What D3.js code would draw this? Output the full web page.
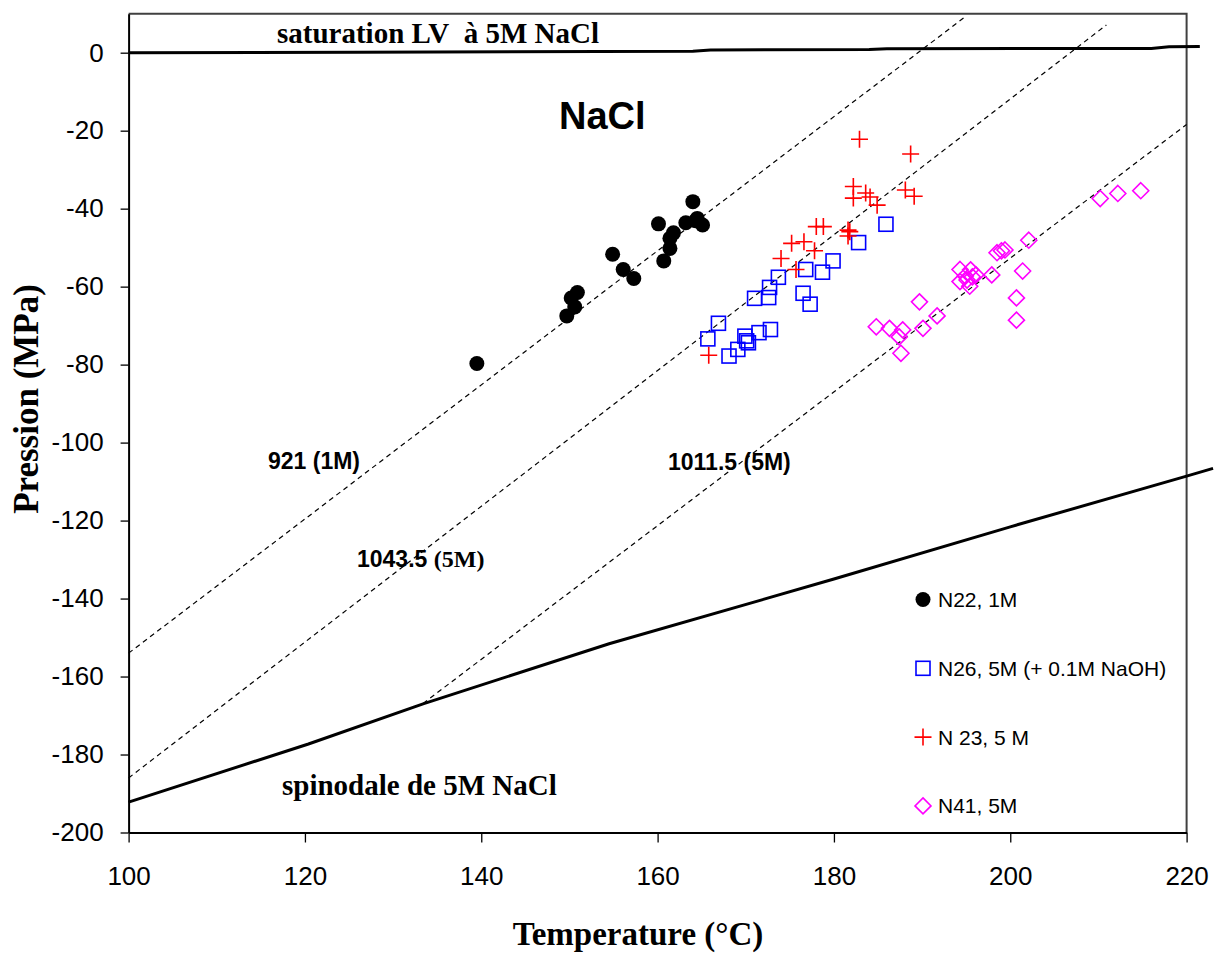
<!DOCTYPE html>
<html>
<head>
<meta charset="utf-8">
<script src="https://cdnjs.cloudflare.com/ajax/libs/d3/7.8.5/d3.min.js"></script>
<style>
body{margin:0;background:#fff;}
svg{display:block;}
</style>
</head>
<body>
<svg></svg>
<script>
var n22 = [[139.5,-79.7],[149.7,-67.5],[150.6,-65.2],[150.2,-62.9],[150.9,-61.5],
    [154.9,-51.7],[156.1,-55.6],[157.3,-57.9],[160.1,-43.9],[160.7,-53.4],
    [161.4,-50.2],[161.4,-47.6],[161.8,-46.2],[163.2,-43.6],[164.0,-38.2],
    [164.3,-43.1],[164.5,-42.5],[165.1,-44.2]];
var n26 = [[185.9,-44.0],[182.8,-48.7],[179.9,-53.4],[178.7,-56.3],[176.8,-55.6],
    [173.7,-57.6],[172.7,-60.2],[172.6,-62.8],[171.0,-63.0],[176.5,-61.7],
    [177.3,-64.5],[166.9,-69.4],[165.7,-73.4],[172.8,-71.0],[171.5,-71.8],
    [169.9,-72.7],[170.1,-73.9],[170.3,-74.4],[169.1,-76.1],[168.1,-77.8]];
var n23 = [[182.9,-22.2],[188.7,-26.0],[182.2,-34.3],[182.2,-37.3],[183.6,-36.0],
    [184.1,-37.0],[184.9,-39.1],[188.1,-35.2],[189.1,-36.8],[178.0,-44.6],
    [178.8,-44.6],[181.6,-45.5],[181.8,-45.9],[181.6,-47.0],[175.2,-48.9],
    [176.6,-48.5],[177.8,-50.8],[174.0,-52.8],[175.7,-55.6],[165.8,-77.6]];
var n41 = [[210.2,-37.4],[212.2,-36.1],[214.8,-35.4],[202.1,-48.1],[201.4,-56.0],
    [200.7,-62.9],[200.7,-68.6],[198.5,-51.3],[199.0,-50.8],[199.4,-50.6],
    [197.9,-57.0],[194.3,-55.6],[195.5,-55.7],[194.9,-57.3],[194.3,-58.7],
    [195.1,-58.3],[195.7,-57.5],[195.4,-59.9],[196.1,-57.0],[189.7,-63.9],
    [191.7,-67.5],[190.1,-70.7],[184.8,-70.3],[186.3,-70.7],[187.8,-71.1],
    [187.4,-72.9],[187.6,-77.1]];
//solid curves
var saturation = [[100,0],[126,0.1],[164,0.4],[166,0.7],[184,0.8],[186,1.0],[216,1.1],[218,1.5],[221.5,1.6]];
var spinodale = [[100,-192.2],[120.4,-177.3],[133.4,-167.0],[154.5,-151.6],[180,-135.0],[200,-121.6],[220,-108.6],[223,-106.6]];
//dashed isochores
var iso921 = [[100,-154],[195,9.4]];
var iso1043 = [[100,-186],[210.9,7.1]];
var iso1011 = [[133.4,-166.9],[220,-18.4]];
//ticks and legend
var xTicks = [100,120,140,160,180,200,220];
var yTicks = [0,-20,-40,-60,-80,-100,-120,-140,-160,-180,-200];
var legendLabels = ["N22, 1M","N26, 5M (+ 0.1M NaOH)","N 23, 5 M","N41, 5M"];

var width = 1215;
var height = 955;
var plotLeft = 128.6, plotRight = 1186.6, plotTop = 13.7, plotBottom = 832.5;
var sans = "'Liberation Sans', Arial, sans-serif";
var serif = "'Liberation Serif', 'Times New Roman', serif";

var svg = d3.select("svg")
    .attr("width",width)
    .attr("height",height);

var xScale = d3.scaleLinear().domain([100,220]).range([plotLeft,plotRight]);
var yScale = d3.scaleLinear().domain([-200,10]).range([plotBottom,plotTop]);

//frame top and right
svg.append("path")
    .attr("d","M"+plotLeft+","+plotTop+"H"+plotRight+"V"+plotBottom)
    .attr("fill","none")
    .attr("stroke","#404040")
    .attr("stroke-width",2);

//plain hyphen for negative labels, like the original
var xAxis = d3.axisBottom(xScale).tickValues(xTicks).tickFormat(d => String(d))
    .tickSize(10).tickPadding(24).tickSizeOuter(0);
var yAxis = d3.axisLeft(yScale).tickValues(yTicks).tickFormat(d => String(d))
    .tickSize(8).tickPadding(17).tickSizeOuter(0);

var gx = svg.append("g")
    .attr("transform","translate(0,"+plotBottom+")")
    .call(xAxis);
var gy = svg.append("g")
    .attr("transform","translate("+plotLeft+",0)")
    .call(yAxis);
[gx,gy].forEach(function(g){
    g.select(".domain").attr("stroke","#000").attr("stroke-width",2);
    g.selectAll(".tick line").attr("stroke","#000").attr("stroke-width",1.3);
    g.selectAll(".tick text")
        .style("font-family",sans)
        .style("font-size","26px")
        .attr("fill","#000");
});

var line = d3.line().x(d => xScale(d[0])).y(d => yScale(d[1]));

//dashed lines
[iso921,iso1043,iso1011].forEach(function(d){
    svg.append("path")
        .attr("d",line(d))
        .attr("fill","none")
        .attr("stroke","#000")
        .attr("stroke-width",1.2)
        .attr("stroke-dasharray","5,4");
});

//saturation and spinodal
[saturation,spinodale].forEach(function(d){
    svg.append("path")
        .attr("d",line(d))
        .attr("fill","none")
        .attr("stroke","#000")
        .attr("stroke-width",3);
});

//marker shapes
function drawMarker(sel,type){
    if(type==0){
        sel.append("circle").attr("r",7.5).attr("fill","#000");
    } else if(type==1){
        sel.append("rect").attr("x",-7).attr("y",-7).attr("width",14).attr("height",14)
            .attr("fill","none").attr("stroke","#0000ff").attr("stroke-width",1.6);
    } else if(type==2){
        sel.append("path").attr("d","M-8.5,0H8.5M0,-8.5V8.5")
            .attr("fill","none").attr("stroke","#ff0000").attr("stroke-width",1.6);
    } else {
        sel.append("path").attr("d","M0,-8L8,0L0,8L-8,0Z")
            .attr("fill","none").attr("stroke","#ff00ff").attr("stroke-width",1.6);
    }
}

[n26,n23,n41,n22].forEach(function(data){
    var type = [n22,n26,n23,n41].indexOf(data);
    svg.append("g").selectAll("g")
        .data(data)
        .enter()
        .append("g")
            .attr("transform",d => "translate("+xScale(d[0])+","+yScale(d[1])+")")
            .each(function(){ drawMarker(d3.select(this),type); });
});

//legend
var legend = svg.append("g").selectAll("g")
    .data(legendLabels)
    .enter()
    .append("g")
        .attr("transform",(d,i) => "translate(923,"+(599.5+i*68.8)+")");
legend.each(function(d,i){ drawMarker(d3.select(this),i); });
legend.append("text")
    .attr("x",15)
    .attr("y",7.5)
    .style("font-family",sans)
    .style("font-size","21px")
    .text(d => d);

//labels inside the plot
svg.append("text")
    .attr("x",277).attr("y",43)
    .style("font-family",serif).style("font-weight","bold").style("font-size","29px")
    .text("saturation LV\u00a0 à 5M NaCl");
svg.append("text")
    .attr("x",559).attr("y",129)
    .style("font-family",sans).style("font-weight","bold").style("font-size","38px")
    .text("NaCl");
svg.append("text")
    .attr("x",268).attr("y",469)
    .style("font-family",sans).style("font-weight","bold").style("font-size","23px")
    .text("921 (1M)");
svg.append("text")
    .attr("x",668).attr("y",470)
    .style("font-family",sans).style("font-weight","bold").style("font-size","23px")
    .text("1011.5 (5M)");
var t1043 = svg.append("text")
    .attr("x",357).attr("y",567)
    .style("font-weight","bold");
t1043.append("tspan").style("font-family",sans).style("font-size","23px").text("1043.5 ");
t1043.append("tspan").style("font-family",serif).style("font-size","24px").text("(5M)");
svg.append("text")
    .attr("x",282).attr("y",795)
    .style("font-family",serif).style("font-weight","bold").style("font-size","29px")
    .text("spinodale de 5M NaCl");

//axis titles
svg.append("text")
    .attr("x",638).attr("y",945)
    .style("text-anchor","middle")
    .style("font-family",serif).style("font-weight","bold").style("font-size","33px")
    .text("Temperature (°C)");
svg.append("text")
    .attr("transform","translate(38,399) rotate(-90)")
    .style("text-anchor","middle")
    .style("font-family",serif).style("font-weight","bold").style("font-size","35px")
    .text("Pression (MPa)");
</script>
</body>
</html>
